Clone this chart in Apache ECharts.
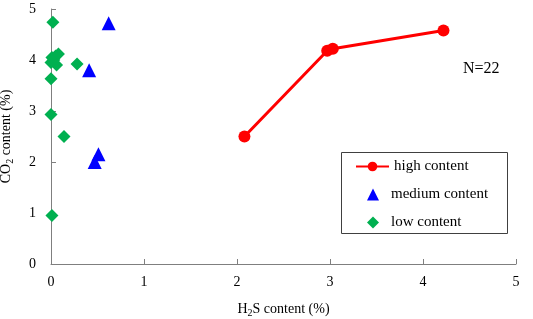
<!DOCTYPE html>
<html>
<head>
    <meta charset="UTF-8">
    <title>CO2 vs H2S content</title>
    <style>
        html, body {
            margin: 0;
            padding: 0;
            width: 100%;
            height: 100%;
            overflow: hidden;
            background: #fff;
        }
        #main {
            width: 533px;
            height: 319px;
        }
    </style>
    <script src="https://cdn.jsdelivr.net/npm/echarts@6/dist/echarts.min.js"></script>
</head>
<body>
    <div id="main"></div>

    <script>
        // [H2S %, CO2 %]
        const highContent = [[2.08, 2.5], [2.97, 4.18], [3.03, 4.22], [4.22, 4.58]];
        const mediumContent = [[0.62, 4.72], [0.41, 3.8], [0.51, 2.15], [0.47, 2.0]];
        const lowContent = [
            [0.02, 4.74], [0.0, 3.95], [0.01, 4.05], [0.03, 4.0], [0.05, 4.08],
            [0.08, 4.12], [0.06, 3.9], [0.28, 3.92], [0.0, 3.63], [0.0, 2.93],
            [0.14, 2.5], [0.01, 0.95]
        ];
        const seriesNames = ['high content', 'medium content', 'low content'];
        const noteText = 'N=22';

        const font = 'Liberation Serif';
        const axisColor = '#7f7f7f';
        const legendText = { fontFamily: font, fontSize: 15, color: '#000' };

        const chart = echarts.init(document.getElementById('main'));

        const option = {
            animation: false,
            backgroundColor: '#fff',
            textStyle: { fontFamily: font, color: '#000' },
            grid: { left: 51, right: 17, top: 9, bottom: 55, outerBoundsMode: 'none' },
            xAxis: {
                type: 'value',
                min: 0, max: 5, interval: 1,
                name: '{a|H}{s|2}{a|S content (%)}',
                nameLocation: 'middle',
                nameGap: 36,
                nameTextStyle: {
                    rich: {
                        a: { fontFamily: font, fontSize: 14, color: '#000' },
                        s: { fontFamily: font, fontSize: 10, color: '#000', padding: [8, 0, 0, 0] }
                    }
                },
                splitLine: { show: false },
                axisLine: { show: true, lineStyle: { color: axisColor, width: 1 } },
                axisTick: { show: true, inside: true, length: 5, lineStyle: { color: axisColor } },
                axisLabel: { fontFamily: font, fontSize: 14, color: '#000', margin: 11 }
            },
            yAxis: {
                type: 'value',
                min: 0, max: 5, interval: 1,
                name: '{a|CO}{s|2}{a| content (%)}',
                nameLocation: 'middle',
                nameGap: 36,
                nameTextStyle: {
                    rich: {
                        a: { fontFamily: font, fontSize: 14, color: '#000' },
                        s: { fontFamily: font, fontSize: 10, color: '#000', padding: [8, 0, 0, 0] }
                    }
                },
                splitLine: { show: false },
                axisLine: { show: true, lineStyle: { color: axisColor, width: 1 } },
                axisTick: { show: true, inside: true, length: 5, lineStyle: { color: axisColor } },
                axisLabel: { fontFamily: font, fontSize: 14, color: '#000', margin: 15 }
            },
            // two legends so the line icon can be wide and the marker icons square
            legend: [
                {
                    orient: 'vertical',
                    left: 355,
                    top: 159,
                    padding: 0,
                    itemWidth: 33,
                    itemHeight: 12,
                    textStyle: legendText,
                    data: [seriesNames[0]]
                },
                {
                    orient: 'vertical',
                    left: 367,
                    top: 187,
                    padding: 0,
                    itemWidth: 12,
                    itemHeight: 12,
                    itemGap: 13,
                    textStyle: Object.assign({ padding: [0, 0, 0, 7] }, legendText),
                    data: [seriesNames[1], seriesNames[2]]
                }
            ],
            graphic: [
                {
                    type: 'rect',
                    shape: { x: 341.5, y: 152.5, width: 166, height: 81 },
                    style: { fill: 'none', stroke: '#404040', lineWidth: 1 },
                    z: -1
                },
                {
                    type: 'text',
                    left: 463,
                    top: 61,
                    style: { text: noteText, font: '16px "Liberation Serif"', fill: '#000' }
                }
            ],
            series: [
                {
                    name: seriesNames[0],
                    type: 'line',
                    data: highContent,
                    symbol: 'circle',
                    symbolSize: 12,
                    lineStyle: { color: '#ff0000', width: 3 },
                    itemStyle: { color: '#ff0000', opacity: 1 },
                    z: 3
                },
                {
                    name: seriesNames[1],
                    type: 'scatter',
                    data: mediumContent,
                    symbol: 'triangle',
                    symbolSize: 14,
                    itemStyle: { color: '#0000ff', opacity: 1 }
                },
                {
                    name: seriesNames[2],
                    type: 'scatter',
                    data: lowContent,
                    symbol: 'diamond',
                    symbolSize: 13,
                    itemStyle: { color: '#00b050', opacity: 1 }
                }
            ]
        };

        chart.setOption(option);
    </script>
</body>
</html>
